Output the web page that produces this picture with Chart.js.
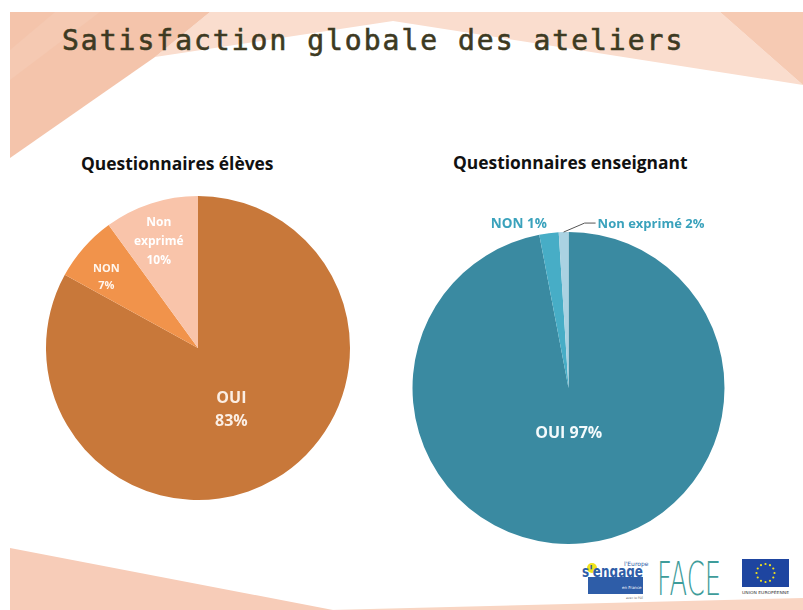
<!DOCTYPE html>
<html lang="fr">
<head>
<meta charset="utf-8">
<title>Satisfaction globale des ateliers</title>
<script src="https://cdn.jsdelivr.net/npm/chart.js@4/dist/chart.umd.min.js"></script>
<style>
  html, body { margin: 0; padding: 0; background: #fff; }
  #slide { position: relative; width: 803px; height: 610px; overflow: hidden; }
  #deco { position: absolute; left: 0; top: 0; }
  canvas { position: absolute; }
  #pieEleves { left: 0; top: 180px; }
  #pieEnseignants { left: 400px; top: 190px; }
</style>
</head>
<body>
<div id="slide">
  <svg id="deco" width="803" height="610" viewBox="0 0 803 610">
    <!-- peach background shapes -->
    <polygon points="210,12 720,12 803,85 393,21 155,57" fill="#FADDCE"/>
    <polygon points="720,12 803,12 803,85" fill="#F6CAB3"/>
    <polygon points="10,12 210,12 155,57 10,158" fill="#F4C4AB"/>
    <polygon points="55,12 100,12 10,80 10,50" fill="#F5C9B2"/>
    <polygon points="10,548 333,610 10,610" fill="#F7CCB8"/>
    <polygon points="330,610 803,598 803,610" fill="#F9D5C3"/>

    <text x="62" y="50" font-family="DejaVu Sans Mono" font-size="28" letter-spacing="2" fill="#3D3A22" stroke="#3D3A22" stroke-width="0.6">Satisfaction globale des ateliers</text>

    <text x="81" y="170" font-family="Open Sans" font-weight="bold" font-size="17.4" fill="#111">Questionnaires élèves</text>
    <text x="453" y="169" font-family="Open Sans" font-weight="bold" font-size="17.4" fill="#111">Questionnaires enseignant</text>

    <!-- logos -->
    <rect x="588" y="577" width="55" height="17" fill="#2E5DA8"/>
    <circle cx="592" cy="568" r="5" fill="#F2E21B"/>
    <text x="582" y="577" font-family="DejaVu Sans" font-weight="bold" font-size="16" fill="#2E5DA8" textLength="61" lengthAdjust="spacingAndGlyphs">s'engage</text>
    <text x="624" y="566" font-family="DejaVu Sans" font-size="6" fill="#2E5DA8">l'Europe</text>
    <text x="622" y="589" font-family="DejaVu Sans" font-size="4" fill="#fff">en France</text>
    <text x="626" y="599" font-family="DejaVu Sans" font-size="3" fill="#666">avec le FSE</text>

    <text x="657" y="595" font-family="DejaVu Sans" font-weight="200" font-size="46" fill="#3E9C9A" textLength="64" lengthAdjust="spacingAndGlyphs">FACE</text>

    <rect x="742" y="559" width="47" height="28" fill="#1E45A0"/>
    <g id="stars" fill="#F2E21B"></g>
    <text x="742" y="594" font-family="DejaVu Sans" font-size="4" fill="#333" textLength="47" lengthAdjust="spacingAndGlyphs">UNION EUROPÉENNE</text>
  </svg>
  <canvas id="pieEleves" width="400" height="340"></canvas>
  <canvas id="pieEnseignants" width="403" height="370"></canvas>
</div>
<script>
// Questionnaires élèves
const elevesLabels = ['OUI', 'NON', 'Non exprimé'];
const elevesValues = [83, 7, 10];
const elevesText = [['OUI', '83%'], ['NON', '7%'], ['Non', 'exprimé', '10%']];
const elevesColors = ['#C8783A', '#F1934B', '#F9C4AA'];

// Questionnaires enseignant
const enseignantsLabels = ['OUI', 'NON', 'Non exprimé'];
const enseignantsValues = [97, 2, 1];
const enseignantsText = [['OUI 97%'], ['NON 1%'], ['Non exprimé 2%']];
const enseignantsColors = ['#3A8AA1', '#47ADC6', '#AAD2E2'];

// EU flag stars
const starGroup = document.getElementById('stars');
for (let i = 0; i < 12; i++) {
  const a = i * Math.PI / 6;
  const c = document.createElementNS('http://www.w3.org/2000/svg', 'circle');
  c.setAttribute('cx', 765.5 + Math.cos(a) * 9);
  c.setAttribute('cy', 573 + Math.sin(a) * 9);
  c.setAttribute('r', 1.1);
  starGroup.appendChild(c);
}

// draws the text of each slice, placed from the arc geometry
const sliceLabels = {
  id: 'sliceLabels',
  afterDatasetsDraw(chart, args, opts) {
    const ctx = chart.ctx;
    chart.getDatasetMeta(0).data.forEach((arc, i) => {
      const s = opts.styles[i];
      const lines = opts.text[i];
      const p = arc.getProps(['x', 'y', 'startAngle', 'endAngle', 'outerRadius'], true);
      const mid = (p.startAngle + p.endAngle) / 2;
      let x = p.x + Math.cos(mid) * p.outerRadius * s.r;
      let y = p.y + Math.sin(mid) * p.outerRadius * s.r;
      ctx.save();
      if (s.leader) {
        const [lx, ly, lw] = s.leader;
        ctx.strokeStyle = '#555';
        ctx.lineWidth = 1;
        ctx.beginPath();
        ctx.moveTo(x, y);
        ctx.lineTo(x + lx, y + ly);
        ctx.lineTo(x + lx + lw, y + ly);
        ctx.stroke();
        x += lx + lw + 2;
        y += ly;
      }
      x += s.dx || 0;
      y += s.dy || 0;
      ctx.font = s.font;
      ctx.fillStyle = s.color;
      ctx.textAlign = s.align || 'center';
      ctx.textBaseline = 'middle';
      const y0 = y - (lines.length - 1) * s.lh / 2;
      lines.forEach((t, k) => ctx.fillText(t, x, y0 + k * s.lh));
      ctx.restore();
    });
  }
};

Chart.register(sliceLabels);

function pieOptions(padding, text, styles) {
  return {
    responsive: false,
    animation: false,
    layout: { padding: padding },
    plugins: {
      legend: { display: false },
      tooltip: { enabled: false },
      sliceLabels: { text: text, styles: styles }
    }
  };
}

new Chart(document.getElementById('pieEleves'), {
  type: 'pie',
  data: {
    labels: elevesLabels,
    datasets: [{ data: elevesValues, backgroundColor: elevesColors, borderWidth: 0 }]
  },
  options: pieOptions({ left: 46, right: 50, top: 16, bottom: 20 }, elevesText, [
    { r: 0.47, dx: -3, dy: 0, font: 'bold 16px "Open Sans"', color: '#FBEEE4', lh: 23 },
    { r: 0.76, dx: -5, dy: 6, font: 'bold 11px "Open Sans"', color: '#FFF6EE', lh: 17 },
    { r: 0.75, dx: -4, dy: 2, font: 'bold 12px "Open Sans"', color: '#FFFFFF', lh: 19 }
  ])
});

new Chart(document.getElementById('pieEnseignants'), {
  type: 'pie',
  data: {
    labels: enseignantsLabels,
    datasets: [{ data: enseignantsValues, backgroundColor: enseignantsColors, borderWidth: 0 }]
  },
  options: pieOptions({ left: 12.5, right: 78.5, top: 42, bottom: 16 }, enseignantsText, [
    { r: 0.29, dx: -4, dy: 0, font: 'bold 16px "Open Sans"', color: '#F4FAFC', lh: 20 },
    { r: 1, dx: -2, dy: -9, align: 'right', font: 'bold 13.5px "Open Sans"', color: '#3AA2BC', lh: 14 },
    { r: 1, dx: 0, dy: 1, align: 'left', leader: [21, -9, 11], font: 'bold 13px "Open Sans"', color: '#3AA2BC', lh: 14 }
  ])
});
</script>
</body>
</html>
